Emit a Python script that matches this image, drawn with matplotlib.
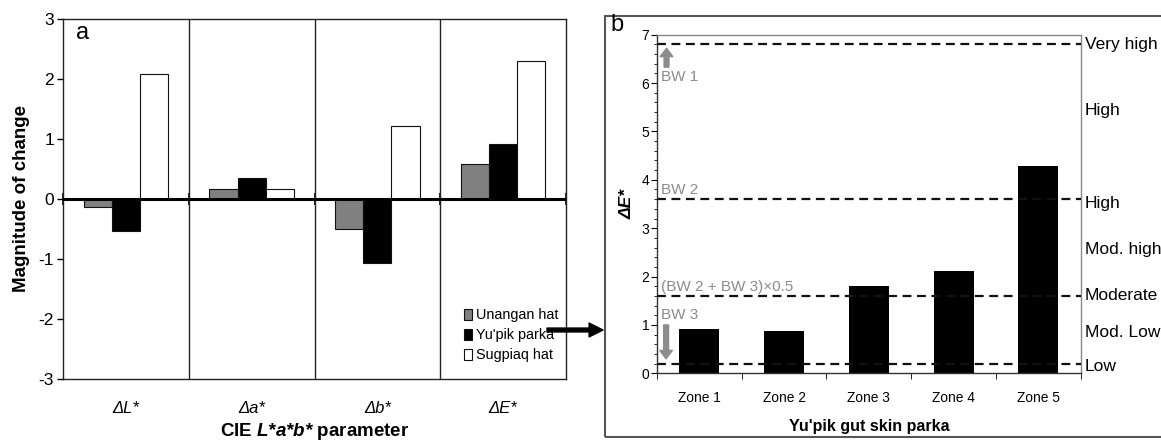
import matplotlib
matplotlib.use('Agg')
import matplotlib.pyplot as plt
from matplotlib import font_manager
from matplotlib.patches import Rectangle
from matplotlib.ticker import MultipleLocator, FixedLocator, NullFormatter
import matplotlib.transforms as mtrans
import numpy as np

# ---------------- data ----------------
params = ['ΔL*', 'Δa*', 'Δb*', 'ΔE*']
series = ['Unangan hat', "Yu'pik parka", 'Sugpiaq hat']
unangan = [-0.13, 0.17, -0.50, 0.58]
yupik = [-0.54, 0.35, -1.07, 0.92]
sugpiaq = [2.08, 0.17, 1.22, 2.30]

zones = ['Zone 1', 'Zone 2', 'Zone 3', 'Zone 4', 'Zone 5']
delta_e = [0.91, 0.88, 1.81, 2.11, 4.29]

thresholds = [6.8, 3.6, 1.6, 0.2]
threshold_labels = ['BW 1', 'BW 2', '(BW 2 + BW 3)×0.5', 'BW 3']
rating_labels = ['Very high', 'High', 'High', 'Mod. high', 'Moderate', 'Mod. Low', 'Low']
rating_y = [6.8, 5.44, 3.52, 2.55, 1.6, 0.84, 0.14]

# ---------------- fonts ----------------
fams = {f.name for f in font_manager.fontManager.ttflist}
base = 'Liberation Sans' if 'Liberation Sans' in fams else 'DejaVu Sans'
narrow = 'Liberation Sans Narrow' if 'Liberation Sans Narrow' in fams else base
narrow_scale = 1.0 if narrow != base else 0.9
plt.rcParams['font.family'] = [base, 'DejaVu Sans']
plt.rcParams['axes.unicode_minus'] = False
plt.rcParams['mathtext.fontset'] = 'custom'
plt.rcParams['mathtext.rm'] = base
plt.rcParams['mathtext.it'] = base + ':italic'
plt.rcParams['mathtext.bf'] = base + ':bold'
try:
    plt.rcParams['mathtext.bfit'] = base + ':bold:italic'
    xlab_a = 'CIE $\\mathbfit{L{*}a{*}b{*}}$ parameter'
except KeyError:
    xlab_a = 'CIE L*a*b* parameter'

W, H = 1161, 441
fig = plt.figure(figsize=(W / 100, H / 100), dpi=100)


def fx(px):
    return px / W


def fy(py):
    return 1 - py / H


# ---------------- panel a ----------------
axa = fig.add_axes([fx(63), fy(378.7), fx(566) - fx(63), fy(19.3) - fy(378.7)])
x = np.arange(len(params))
bw = 0.224
colors = ['#808080', 'black', 'white']
for i, vals in enumerate([unangan, yupik, sugpiaq]):
    axa.bar(x + (i - 1) * bw, vals, bw, color=colors[i], edgecolor='#111111',
            linewidth=0.8, label=series[i], zorder=2)

axa.set_xlim(-0.5, len(params) - 0.5)
axa.set_ylim(-3, 3)
for s in axa.spines.values():
    s.set_color('#222222')
    s.set_linewidth(1.0)
axa.axhline(0, color='black', lw=2.2, zorder=3)
for b in np.arange(0.5, len(params) - 0.5, 1.0):
    axa.axvline(b, color='#222222', lw=1.0, zorder=1)

axa.set_yticks(range(-3, 4))
axa.tick_params(axis='y', direction='out', length=4, width=1, pad=2.5, labelsize=12.5)
axa.set_xticks(x, params, fontstyle='italic')
axa.tick_params(axis='x', length=0, pad=16, labelsize=12)

# cross ticks on zero line at category boundaries
sec = axa.secondary_xaxis(0.5)
sec.set_xticks(np.arange(-0.5, len(params), 1.0))
sec.xaxis.set_major_formatter(NullFormatter())
sec.tick_params(direction='inout', length=9, width=1.2, color='black')
sec.spines['bottom'].set_visible(False)

axa.set_xlabel(xlab_a, fontsize=13.5, fontweight='bold', labelpad=4)
axa.set_ylabel('Magnitude of change', fontsize=13.5, fontweight='bold', labelpad=6)
axa.text(0.026, 0.962, 'a', transform=axa.transAxes, fontsize=17, va='center', ha='left')

leg = axa.legend(loc='lower left', bbox_to_anchor=(0.785, 0.03), frameon=False,
                 handlelength=0.6, handleheight=0.8, handletextpad=0.25,
                 labelspacing=0.42, borderaxespad=0,
                 prop={'family': narrow, 'size': 11.5 * narrow_scale})

# arrow from legend to panel b
axa.annotate('', xy=(fx(603), fy(330)), xycoords='figure fraction',
             xytext=(fx(547), fy(330)), textcoords='figure fraction',
             arrowprops=dict(width=2.8, headwidth=10, headlength=10, color='black', shrink=0),
             annotation_clip=False)

# ---------------- panel b ----------------
fig.add_artist(Rectangle((fx(605), fy(436.7)), 0.6, fy(15.7) - fy(436.7),
                         transform=fig.transFigure, fill=False, ec='#555555', lw=1.5))

axb = fig.add_axes([fx(657), fy(373.3), fx(1080.7) - fx(657), fy(34.7) - fy(373.3)])
xz = np.arange(len(zones))
axb.bar(xz, delta_e, 0.47, color='black', zorder=2)
axb.set_xlim(-0.5, len(zones) - 0.5)
axb.set_ylim(0, 7)

for t in thresholds:
    axb.axhline(t, color='#111111', lw=1.6, ls=(0, (4, 2.5)), zorder=3)

axb.spines['left'].set_color('#333333')
axb.spines['bottom'].set_color('#333333')
axb.spines['top'].set_color('#888888')
axb.spines['right'].set_color('#888888')
for s in axb.spines.values():
    s.set_linewidth(1.0)

axb.yaxis.set_major_locator(MultipleLocator(1))
axb.yaxis.set_minor_locator(MultipleLocator(0.2))
axb.tick_params(axis='y', which='major', direction='out', length=4, pad=1.5, labelsize=10)
axb.tick_params(axis='y', which='minor', direction='out', length=2.5)
axb.set_xticks(xz, zones)
axb.xaxis.set_minor_locator(FixedLocator(np.arange(-0.5, len(zones), 1.0)))
axb.tick_params(axis='x', which='major', length=0, pad=13, labelsize=11 * narrow_scale)
axb.tick_params(axis='x', which='minor', direction='out', length=4)
for lab in axb.get_xticklabels():
    lab.set_family(narrow)

axb.set_xlabel("Yu'pik gut skin parka", fontsize=11.5, fontweight='bold', labelpad=10)
axb.set_ylabel('ΔE*', fontsize=12.5, fontweight='bold', fontstyle='italic', labelpad=5)
fig.text(fx(617), fy(25), 'b', fontsize=17, ha='center', va='center')

trans_r = mtrans.blended_transform_factory(axb.transAxes, axb.transData)
for lab, yv in zip(rating_labels, rating_y):
    axb.text(1.009, yv, lab, transform=trans_r, fontsize=12.5, va='center', ha='left',
             clip_on=False)

gray = '#8c8c8c'
label_y = [6.13, 3.78, 1.79, 1.2]
for lab, yv in zip(threshold_labels, label_y):
    axb.text(0.009, yv, lab, transform=trans_r, fontsize=11, color=gray,
             va='center', ha='left', zorder=4)

arr = dict(width=3.5, headwidth=9, headlength=6, color=gray, shrink=0)
axb.annotate('', xy=(0.0225, 6.72), xycoords=trans_r, xytext=(0.0225, 6.33),
             textcoords=trans_r, arrowprops=arr)
axb.annotate('', xy=(0.0215, 0.3), xycoords=trans_r, xytext=(0.0215, 1.0),
             textcoords=trans_r, arrowprops=arr)

fig.savefig('out.png', dpi=100)
